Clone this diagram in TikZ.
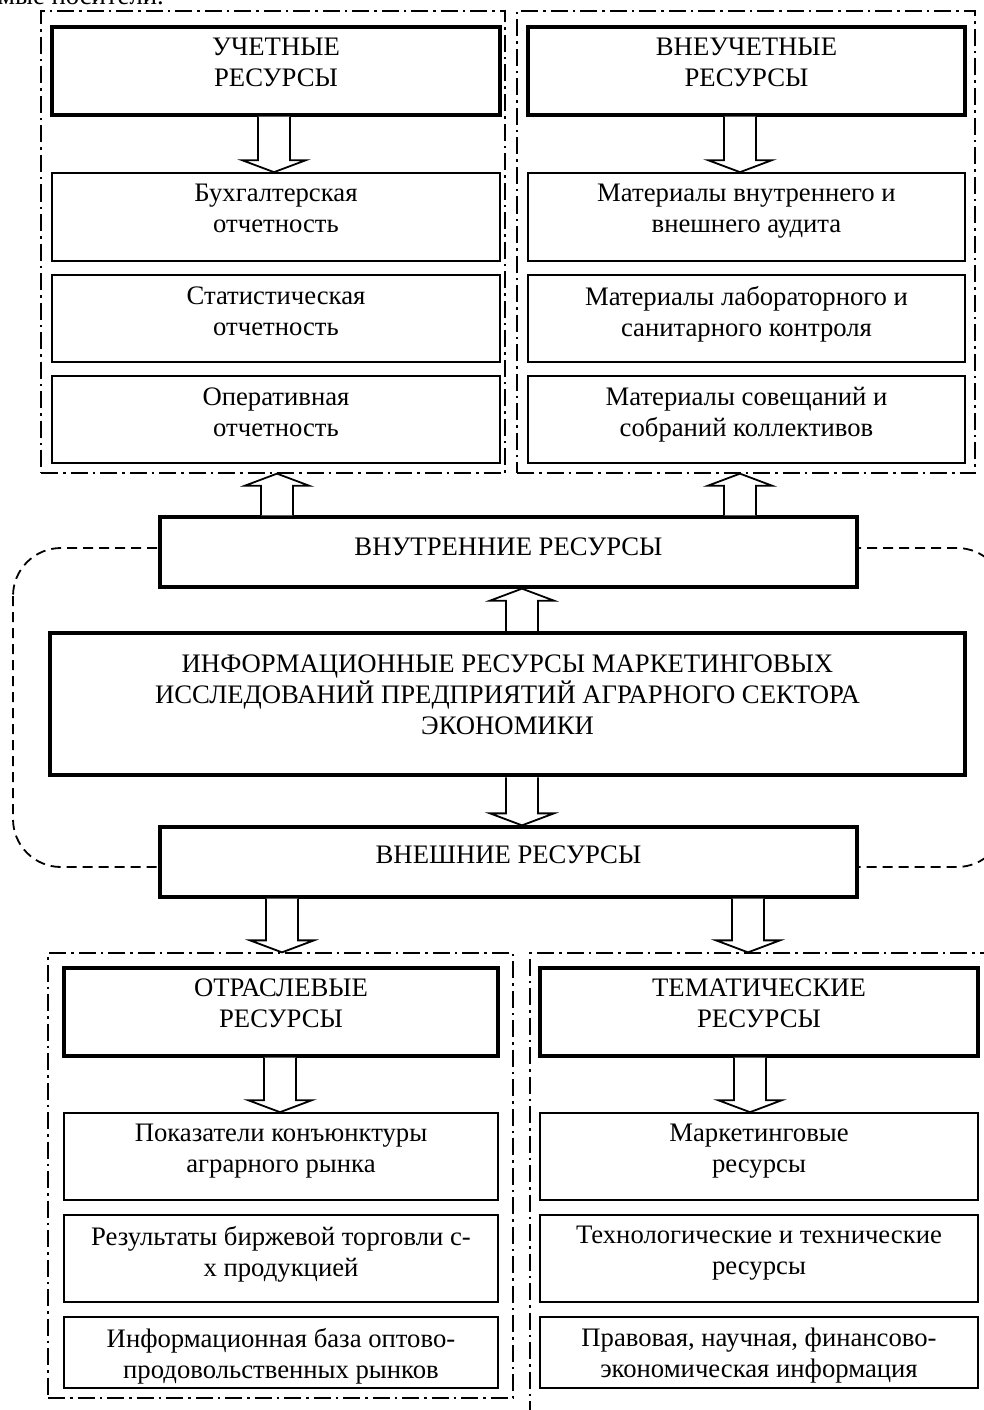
\documentclass[tikz,border=0pt]{standalone}
\usepackage{fontspec}
\setmainfont{Liberation Serif}
\usetikzlibrary{calc}
\begin{document}
\begin{tikzpicture}[x=1pt,y=-1pt,
  panel/.style={draw, line width=1.3pt, dash pattern=on 17pt off 5pt on 2.5pt off 5pt},
  grp/.style={draw, line width=1.8pt, dash pattern=on 10pt off 6pt, rounded corners=48pt},
  thinbox/.style={draw, fill=white, line width=1.7pt, inner sep=0pt},
  thickbox/.style={draw, fill=white, line width=3.3pt, inner sep=0pt},
  mainbox/.style={draw, fill=white, line width=4.5pt, inner sep=0pt},
  txt/.style={align=center, inner sep=0pt, anchor=north, font=\fontsize{26.7}{31}\selectfont},
  blk/.style={draw, fill=white, line width=1.8pt, line join=miter,
    to path={let \p1=(\tikztostart), \p2=(\tikztotarget), \n1={sign(\y2-\y1)} in
      (\x1-16pt,\y1) -- (\x1-16pt,\y2-\n1*12pt) -- (\x1-32pt,\y2-\n1*12pt) -- (\x1,\y2)
      -- (\x1+32pt,\y2-\n1*12pt) -- (\x1+16pt,\y2-\n1*12pt) -- (\x1+16pt,\y1)}},
]
\useasboundingbox (0,0) rectangle (984,1410);
\clip (0,0) rectangle (984,1410);

% cut-off line of text at the top
\node[anchor=base west, inner sep=0pt, font=\fontsize{26.7}{31}\selectfont] (toptext) at (-2,5) {мые носители.};

% dashed group outline
\draw[grp] (13,548) rectangle (1005,867);

% dash-dot panels
\node[panel, inner sep=0pt, minimum width=464pt, minimum height=462pt] (pTL) at (273,242) {};
\node[panel, inner sep=0pt, minimum width=458pt, minimum height=462pt] (pTR) at (746,242) {};
\node[panel, inner sep=0pt, minimum width=465pt, minimum height=445pt] (pBL) at (280.5,1175.5) {};
\node[panel, inner sep=0pt, minimum width=480pt, minimum height=480pt] (pBR) at (770,1193) {};

% arrow positions
\coordinate (xa1) at (274,0);
\coordinate (xa2) at (740,0);
\coordinate (xa3) at (277,0);
\coordinate (xa5) at (522,0);
\coordinate (xa7) at (282,0);
\coordinate (xa8) at (748,0);
\coordinate (xa9) at (280,0);
\coordinate (xa10) at (750,0);

% boxes (shapes)
\node[thickbox, minimum width=448pt, minimum height=88pt] (uch) at (276,71) {};
\node[thinbox, minimum width=448pt, minimum height=88pt] (b1) at (276,217) {};
\node[thinbox, minimum width=448pt, minimum height=87pt] (b2) at (276,318.5) {};
\node[thinbox, minimum width=448pt, minimum height=87pt] (b3) at (276,419.5) {};

\node[thickbox, minimum width=437pt, minimum height=88pt] (vneuch) at (746.5,71) {};
\node[thinbox, minimum width=437pt, minimum height=88pt] (r1) at (746.5,217) {};
\node[thinbox, minimum width=437pt, minimum height=87pt] (r2) at (746.5,318.5) {};
\node[thinbox, minimum width=437pt, minimum height=87pt] (r3) at (746.5,419.5) {};

\node[thickbox, minimum width=697pt, minimum height=70pt] (vnutr) at (508.5,552) {};
\node[mainbox, minimum width=915pt, minimum height=142pt] (main) at (507.5,704) {};
\node[thickbox, minimum width=697pt, minimum height=70pt] (vnesh) at (508.5,862) {};

\node[thickbox, minimum width=434pt, minimum height=88pt] (otr) at (281,1012) {};
\node[thinbox, minimum width=434pt, minimum height=87pt] (c1) at (281,1156.5) {};
\node[thinbox, minimum width=434pt, minimum height=87pt] (c2) at (281,1258.5) {};
\node[thinbox, minimum width=434pt, minimum height=71pt] (c3) at (281,1352.5) {};

\node[thickbox, minimum width=438pt, minimum height=88pt] (tem) at (759,1012) {};
\node[thinbox, minimum width=438pt, minimum height=87pt] (d1) at (759,1156.5) {};
\node[thinbox, minimum width=438pt, minimum height=87pt] (d2) at (759,1258.5) {};
\node[thinbox, minimum width=438pt, minimum height=71pt] (d3) at (759,1352.5) {};

% block arrows
\draw[blk] (uch.south -| xa1) to (b1.north -| xa1);
\draw[blk] (vneuch.south -| xa2) to (r1.north -| xa2);
\draw[blk] (vnutr.north -| xa3) to (pTL.south -| xa3);
\draw[blk] (vnutr.north -| xa2) to (pTR.south -| xa2);
\draw[blk] (main.north -| xa5) to (vnutr.south -| xa5);
\draw[blk] (main.south -| xa5) to (vnesh.north -| xa5);
\draw[blk] (vnesh.south -| xa7) to (pBL.north -| xa7);
\draw[blk] (vnesh.south -| xa8) to (pBR.north -| xa8);
\draw[blk] (otr.south -| xa9) to (c1.north -| xa9);
\draw[blk] (tem.south -| xa10) to (d1.north -| xa10);

% texts
\node[txt] (uch-t) at ($(uch.north)+(0,12)$) {УЧЕТНЫЕ\\РЕСУРСЫ};
\node[txt] (b1-t) at ($(b1.north)+(0,12)$) {Бухгалтерская\\отчетность};
\node[txt] (b2-t) at ($(b2.north)+(0,12)$) {Статистическая\\отчетность};
\node[txt] (b3-t) at ($(b3.north)+(0,12)$) {Оперативная\\отчетность};

\node[txt] (vneuch-t) at ($(vneuch.north)+(0,12)$) {ВНЕУЧЕТНЫЕ\\РЕСУРСЫ};
\node[txt] (r1-t) at ($(r1.north)+(0,12)$) {Материалы внутреннего и\\внешнего аудита};
\node[txt] (r2-t) at ($(r2.north)+(0,12)$) {Материалы лабораторного и\\санитарного контроля};
\node[txt] (r3-t) at ($(r3.north)+(0,12)$) {Материалы совещаний и\\собраний коллективов};

\node[txt] (vnutr-t) at ($(vnutr.north)+(0,22)$) {ВНУТРЕННИЕ РЕСУРСЫ};
\node[txt] (main-t) at ($(main.north)+(0,24)$) {ИНФОРМАЦИОННЫЕ РЕСУРСЫ МАРКЕТИНГОВЫХ\\ИССЛЕДОВАНИЙ ПРЕДПРИЯТИЙ АГРАРНОГО СЕКТОРА\\ЭКОНОМИКИ};
\node[txt] (vnesh-t) at ($(vnesh.north)+(0,20)$) {ВНЕШНИЕ РЕСУРСЫ};

\node[txt] (otr-t) at ($(otr.north)+(0,12)$) {ОТРАСЛЕВЫЕ\\РЕСУРСЫ};
\node[txt] (c1-t) at ($(c1.north)+(0,12)$) {Показатели конъюнктуры\\аграрного рынка};
\node[txt] (c2-t) at ($(c2.north)+(0,12)$) {Результаты биржевой торговли с-\\х продукцией};
\node[txt] (c3-t) at ($(c3.north)+(0,12)$) {Информационная база оптово-\\продовольственных рынков};

\node[txt] (tem-t) at ($(tem.north)+(0,12)$) {ТЕМАТИЧЕСКИЕ\\РЕСУРСЫ};
\node[txt] (d1-t) at ($(d1.north)+(0,12)$) {Маркетинговые\\ресурсы};
\node[txt] (d2-t) at ($(d2.north)+(0,12)$) {Технологические и технические\\ресурсы};
\node[txt] (d3-t) at ($(d3.north)+(0,12)$) {Правовая, научная, финансово-\\экономическая информация};
\end{tikzpicture}
\end{document}
